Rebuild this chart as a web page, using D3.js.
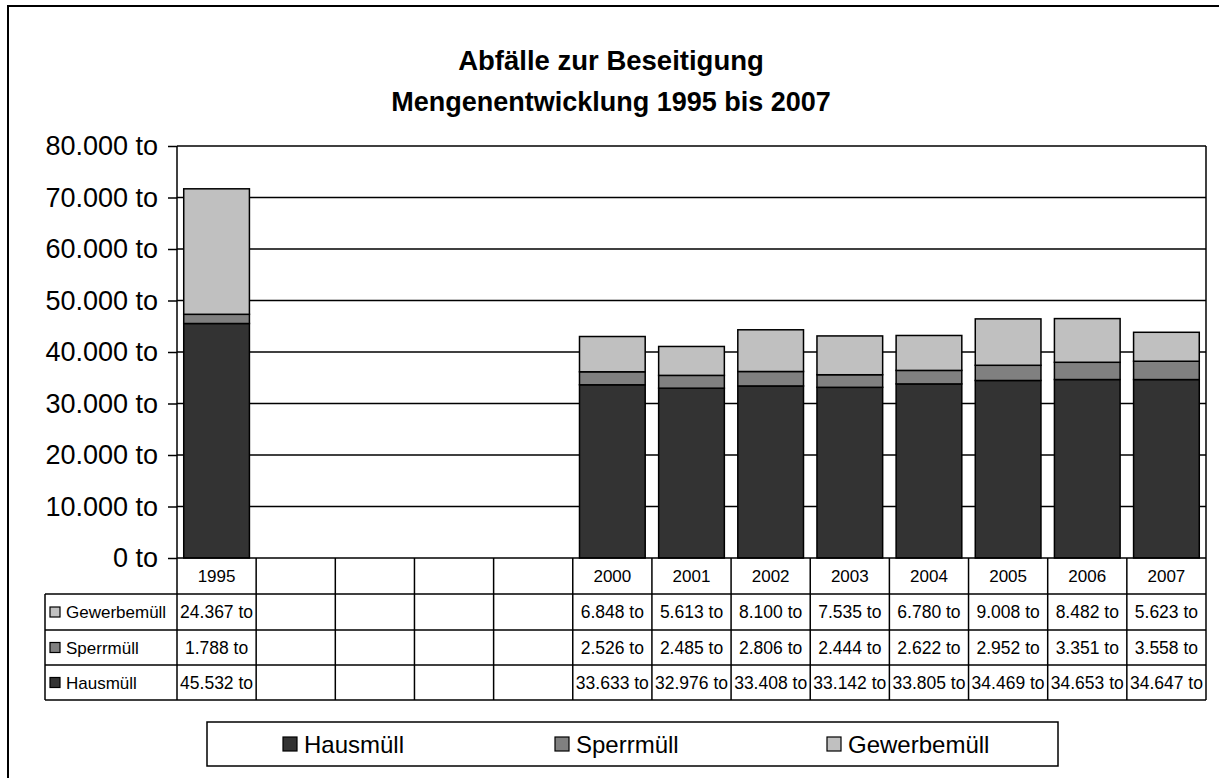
<!DOCTYPE html>
<html>
<head>
<meta charset="utf-8">
<script src="https://cdn.jsdelivr.net/npm/d3@7"></script>
<style>
  body { margin: 0; background: #fff; }
  svg { font-family: Arial, "Liberation Sans", sans-serif; }
</style>
</head>
<body>
<svg id="chart"></svg>
<script>
// Data
const years = ["1995", "", "", "", "", "2000", "2001", "2002", "2003", "2004", "2005", "2006", "2007"];
const hausmuell = [45532, null, null, null, null, 33633, 32976, 33408, 33142, 33805, 34469, 34653, 34647];
const sperrmuell = [1788, null, null, null, null, 2526, 2485, 2806, 2444, 2622, 2952, 3351, 3558];
const gewerbemuell = [24367, null, null, null, null, 6848, 5613, 8100, 7535, 6780, 9008, 8482, 5623];
const seriesNames = ["Hausmüll", "Sperrmüll", "Gewerbemüll"];
const seriesColors = ["#333333", "#808080", "#c0c0c0"];
const yTicks = [0, 10000, 20000, 30000, 40000, 50000, 60000, 70000, 80000];

const width = 1219, height = 778;
const plotLeft = 177, plotRight = 1206, plotTop = 146, plotBottom = 558;

const svg = d3.select("#chart").attr("width", width).attr("height", height);

const de = d3.formatLocale({ decimal: ",", thousands: ".", grouping: [3], currency: ["", "€"] });
const fmt = v => de.format(",d")(v) + " to";

// Outer frame
svg.append("rect")
    .attr("x", 8).attr("y", 6)
    .attr("width", width + 20).attr("height", height + 20)
    .attr("fill", "none").attr("stroke", "#000").attr("stroke-width", 2);

// Title
svg.append("text").attr("x", 611).attr("y", 70)
    .attr("text-anchor", "middle").attr("font-size", "27.5px").attr("font-weight", "bold")
    .text("Abfälle zur Beseitigung");
svg.append("text").attr("x", 611).attr("y", 111)
    .attr("text-anchor", "middle").attr("font-size", "27px").attr("font-weight", "bold")
    .text("Mengenentwicklung 1995 bis 2007");

// Scales
const x = d3.scaleBand()
    .domain(d3.range(years.length))
    .range([plotLeft, plotRight])
    .paddingInner(0.17)
    .paddingOuter(0.085);
const colX = d3.scaleBand().domain(d3.range(years.length)).range([plotLeft, plotRight]);
const y = d3.scaleLinear().domain([0, 80000]).range([plotBottom, plotTop]);

// Gridlines
svg.append("g").selectAll("line")
    .data(yTicks.filter(t => t > 0))
    .enter().append("line")
    .attr("x1", plotLeft).attr("x2", plotRight)
    .attr("y1", d => y(d)).attr("y2", d => y(d))
    .attr("stroke", "#000").attr("stroke-width", 1.5);

// Y axis
const yAxis = d3.axisLeft(y).tickValues(yTicks).tickSize(9).tickPadding(10).tickFormat(fmt);
const gy = svg.append("g").attr("transform", `translate(${plotLeft},0)`).call(yAxis);
gy.select(".domain").remove();
gy.selectAll(".tick line").attr("stroke", "#000").attr("stroke-width", 1.5);
gy.selectAll(".tick text").attr("font-size", "27px").attr("fill", "#000")
    .attr("font-family", "Arial, 'Liberation Sans', sans-serif");

// Stacked bars
const rows = years.map((yr, i) => ({ i, h: hausmuell[i], s: sperrmuell[i], g: gewerbemuell[i] }));
const stack = d3.stack().keys(["h", "s", "g"]).value((d, k) => d[k] || 0);
const stacked = stack(rows);

svg.append("g").selectAll("g")
    .data(stacked)
    .enter().append("g")
    .attr("fill", (d, i) => seriesColors[i])
    .selectAll("rect")
    .data(d => d.filter(p => p.data.h !== null))
    .enter().append("rect")
    .attr("x", d => x(d.data.i))
    .attr("width", x.bandwidth())
    .attr("y", d => y(d[1]))
    .attr("height", d => y(d[0]) - y(d[1]))
    .attr("stroke", "#000").attr("stroke-width", 1.5);

// Data table
const tableRows = [
    { name: "Gewerbemüll", values: gewerbemuell, color: seriesColors[2] },
    { name: "Sperrmüll", values: sperrmuell, color: seriesColors[1] },
    { name: "Hausmüll", values: hausmuell, color: seriesColors[0] }
];
const rowEdges = [558, 594, 630, 665, 700];
const tableLeft = 45;
const table = svg.append("g").attr("stroke", "#000").attr("stroke-width", 1.5);

// horizontal lines
table.append("line").attr("x1", plotLeft).attr("x2", plotRight).attr("y1", rowEdges[0]).attr("y2", rowEdges[0]);
rowEdges.slice(1).forEach(ry => {
    table.append("line").attr("x1", tableLeft).attr("x2", plotRight).attr("y1", ry).attr("y2", ry);
});
// vertical lines
table.append("line").attr("x1", tableLeft).attr("x2", tableLeft).attr("y1", rowEdges[1]).attr("y2", rowEdges[4]);
table.append("line").attr("x1", plotLeft).attr("x2", plotLeft).attr("y1", plotTop).attr("y2", rowEdges[4]);
table.append("line").attr("x1", plotRight).attr("x2", plotRight).attr("y1", plotTop).attr("y2", rowEdges[4]);
d3.range(1, years.length).forEach(i => {
    table.append("line").attr("x1", colX(i)).attr("x2", colX(i)).attr("y1", rowEdges[0]).attr("y2", rowEdges[4]);
});

// header labels
svg.append("g").selectAll("text")
    .data(years)
    .enter().append("text")
    .attr("x", (d, i) => colX(i) + colX.bandwidth() / 2)
    .attr("y", (rowEdges[0] + rowEdges[1]) / 2 + 6)
    .attr("text-anchor", "middle").attr("font-size", "17px")
    .text(d => d);

tableRows.forEach((r, ri) => {
    const cy = (rowEdges[ri + 1] + rowEdges[ri + 2]) / 2;
    svg.append("rect").attr("x", 50).attr("y", cy - 5).attr("width", 10).attr("height", 10)
        .attr("fill", r.color).attr("stroke", "#000").attr("stroke-width", 1.2);
    svg.append("text").attr("x", 66).attr("y", cy + 6).attr("font-size", "17px").text(r.name);
    svg.append("g").selectAll("text")
        .data(r.values)
        .enter().append("text")
        .attr("x", (d, i) => colX(i) + colX.bandwidth() / 2)
        .attr("y", cy + 6)
        .attr("text-anchor", "middle").attr("font-size", "17.5px")
        .text(d => d === null ? "" : fmt(d));
});

// Legend
svg.append("rect").attr("x", 207).attr("y", 722).attr("width", 851).attr("height", 44)
    .attr("fill", "#fff").attr("stroke", "#000").attr("stroke-width", 1.5);
const legendX = d3.scalePoint().domain(seriesNames).range([283, 827]);
const lg = svg.append("g").selectAll("g")
    .data(seriesNames)
    .enter().append("g")
    .attr("transform", d => `translate(${legendX(d)},744)`);
lg.append("rect").attr("x", 0).attr("y", -7).attr("width", 14).attr("height", 14)
    .attr("fill", (d, i) => seriesColors[i]).attr("stroke", "#000").attr("stroke-width", 1.2);
lg.append("text").attr("x", 21).attr("y", 8.5).attr("font-size", "24px").text(d => d);
</script>
</body>
</html>
